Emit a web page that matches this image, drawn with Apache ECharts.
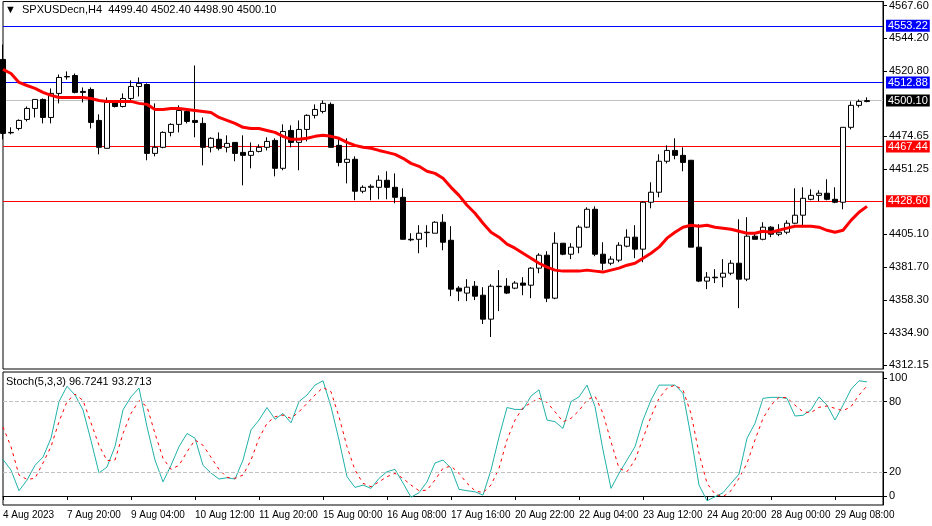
<!DOCTYPE html>
<html>
<head>
<meta charset="utf-8">
<script src="https://cdn.jsdelivr.net/npm/echarts@6/dist/echarts.min.js"></script>
<style>
html,body{margin:0;padding:0;background:#fff;}
#demo{width:932px;height:526px;}
</style>
</head>
<body>
<div id="demo"></div>
<script>
// H4 candles: [open, close, low, high]
var candles = [
[4529.3,4476.8,4472.6,4539.9],[4477.5,4477.2,4476.1,4481.1],[4480.3,4486.0,4478.9,4486.7],[4486.7,4494.5,4485.3,4495.9],
[4494.5,4500.9,4488.1,4500.9],[4500.9,4488.1,4483.9,4501.6],[4488.1,4505.2,4483.9,4508.7],[4505.2,4516.5,4498.1,4518.6],
[4517.2,4516.9,4515.0,4520.8],[4517.9,4505.9,4505.2,4519.3],[4506.6,4505.9,4498.8,4509.4],[4508.0,4484.6,4480.3,4509.4],
[4486.0,4466.9,4461.9,4490.3],[4466.2,4498.8,4466.2,4502.3],[4498.8,4495.9,4495.2,4499.5],[4495.9,4501.6,4495.2,4505.2],
[4501.6,4510.1,4500.2,4514.4],[4510.1,4512.3,4503.0,4516.5],[4511.5,4462.6,4457.7,4512.3],[4462.6,4466.9,4460.5,4498.1],
[4466.9,4477.5,4466.2,4478.2],[4477.5,4483.2,4474.7,4483.9],[4483.2,4493.1,4477.5,4496.7],[4492.4,4485.3,4483.9,4494.5],
[4486.0,4484.6,4474.0,4525.0],[4483.9,4466.9,4454.1,4488.1],[4466.9,4473.3,4463.3,4474.0],[4472.6,4466.2,4464.7,4477.5],
[4466.9,4469.7,4463.3,4475.4],[4470.4,4462.6,4457.0,4470.4],[4463.3,4461.2,4439.9,4475.4],[4461.2,4464.0,4452.0,4470.4],
[4464.0,4466.9,4463.3,4469.0],[4466.9,4471.1,4464.7,4474.0],[4471.8,4452.0,4446.3,4473.3],[4452.0,4478.2,4450.6,4483.2],
[4478.9,4470.4,4466.9,4482.5],[4470.4,4479.6,4450.6,4486.0],[4479.6,4489.6,4471.1,4490.3],[4489.6,4493.8,4487.4,4497.4],
[4492.4,4498.1,4491.0,4500.2],[4497.4,4466.9,4466.9,4498.8],[4468.3,4456.2,4453.4,4474.0],[4456.2,4458.4,4441.3,4473.3],
[4458.4,4435.7,4429.3,4460.5],[4435.7,4438.5,4434.3,4439.9],[4438.5,4439.2,4429.3,4440.6],[4438.5,4443.5,4430.0,4447.0],
[4443.5,4438.5,4430.0,4449.9],[4438.5,4431.4,4427.2,4448.4],[4431.4,4401.6,4401.6,4437.8],[4401.6,4401.2,4400.2,4405.9],
[4401.6,4405.9,4391.7,4411.6],[4406.3,4406.6,4396.0,4411.6],[4405.9,4413.7,4405.9,4414.4],[4413.7,4399.5,4393.8,4419.4],
[4400.9,4366.2,4361.2,4410.9],[4366.9,4364.8,4357.7,4368.3],[4363.4,4367.6,4357.7,4373.3],[4368.3,4361.2,4358.4,4371.9],
[4361.9,4344.9,4341.4,4367.6],[4344.9,4368.3,4332.2,4369.7],[4368.3,4368.0,4350.6,4379.7],[4368.3,4363.4,4362.7,4374.0],
[4366.9,4370.5,4366.2,4371.9],[4370.5,4369.0,4361.9,4374.7],[4369.0,4381.1,4359.8,4381.8],[4381.1,4390.3,4377.5,4391.7],
[4390.3,4359.8,4357.0,4393.1],[4359.8,4398.8,4359.1,4406.6],[4398.8,4391.0,4390.3,4398.8],[4391.0,4396.0,4387.5,4398.8],
[4396.0,4410.2,4391.7,4411.6],[4410.2,4422.9,4409.5,4424.3],[4422.9,4391.0,4389.6,4425.0],[4391.0,4384.6,4379.7,4399.5],
[4384.6,4387.5,4383.2,4389.6],[4386.8,4397.4,4385.3,4399.5],[4396.7,4403.1,4395.9,4408.7],[4403.1,4394.6,4388.2,4411.6],
[4394.6,4427.9,4385.3,4428.6],[4427.9,4435.0,4423.6,4442.1],[4435.0,4457.0,4431.4,4461.9],[4457.0,4464.7,4455.5,4468.3],
[4464.7,4461.2,4458.4,4473.3],[4461.2,4456.2,4449.9,4466.9],[4457.7,4396.0,4396.0,4457.7],[4396.0,4371.9,4371.2,4412.3],
[4371.9,4374.7,4366.2,4378.3],[4374.7,4374.3,4370.5,4380.4],[4374.7,4377.5,4367.6,4387.5],[4377.5,4384.6,4376.1,4386.8],
[4384.6,4373.3,4352.7,4415.8],[4373.3,4403.8,4371.9,4417.3],[4403.8,4401.6,4401.6,4406.6],[4401.6,4410.2,4400.9,4413.7],
[4410.2,4405.2,4403.1,4410.9],[4405.2,4406.6,4403.8,4412.3],[4406.6,4413.0,4405.2,4415.1],[4413.0,4418.7,4412.3,4437.8],
[4418.7,4430.7,4411.6,4438.5],[4430.0,4432.8,4429.3,4437.1],[4432.8,4434.3,4428.6,4436.4],[4434.3,4430.0,4429.3,4444.2],
[4430.0,4427.9,4427.2,4438.5],[4427.9,4481.1,4422.9,4481.1],[4481.1,4496.7,4479.6,4499.5],[4496.7,4499.5,4495.2,4500.9],
[4499.4,4500.1,4498.9,4502.4]
];

var maValues = [
4522.2,4519.3,4513.0,4510.8,4508.7,4505.9,4503.8,4502.3,4502.3,4502.3,4502.3,4501.6,4500.2,4499.5,4499.5,4499.5,
4499.5,4498.1,4497.4,4493.8,4493.8,4494.5,4494.5,4493.8,4493.1,4492.4,4491.7,4488.1,4486.0,4483.9,4481.1,4480.3,
4480.3,4478.9,4477.5,4474.7,4472.6,4472.6,4473.3,4474.7,4475.4,4474.7,4473.3,4470.4,4468.3,4466.9,4466.2,4464.7,
4463.3,4461.9,4459.1,4455.5,4453.4,4449.9,4448.4,4444.9,4438.5,4432.8,
4425.8,4420.1,4413.0,4406.6,4403.1,4398.1,4395.3,4391.7,4388.2,4384.6,4381.8,4379.7,4379.0,4379.0,4379.0,4379.7,
4379.0,4378.3,4379.7,4381.1,4383.2,4384.6,4388.2,4391.7,4396.0,4402.4,4406.6,4410.2,4411.6,4410.9,4411.6,4410.2,
4409.5,4408.7,4407.3,4405.9,4405.9,4407.3,4406.6,4408.0,4409.5,4410.9,4410.9,4410.9,4410.2,4408.0,4406.6,4408.0,
4415.0,4420.8,4425.0
];

var stochMain = [
31,22,4.5,13.5,26,33,49,80,93,85.6,73,47,19.5,24.6,42,73,84,91.5,58.7,30.5,12,26,41.8,53,49,26,19.5,14.4,15.5,14.4,
30.5,56,64.4,75,65,70,62,80,85.6,94,97.7,75.7,47.5,16.4,7.3,9.3,6.5,15,20.6,22.6,11,-1,2.8,12,28,30.5,23.5,5.7,4.5,
3.6,0.8,22,50,75,73.4,73.4,84.7,90,64.4,63,57.3,80,84,94,75.7,39,6.5,19.2,30.5,41.8,64.4,81.4,94,94,94,87,50,9.3,
-4,-0.6,2.8,10.8,18.6,48.9,61.6,82.8,83.6,83.6,82.8,67.8,68.4,73,84,77,64.4,77,90.4,97.7,96.7
];
var stochSignal = [
58.5,41.8,17.8,14.1,15,28,41.8,63,80,86.4,81,62,43,30,30.5,53,70,80.8,75.7,53,32,22.6,26,37.5,47.5,43,32.8,22.6,
15.8,15,17.8,30.5,48.9,61.6,67.2,68.6,65.8,71.4,78.5,85.6,92,88.4,67.2,41.8,22,10.8,7.9,12,16.4,19.2,15,9.3,4.5,5,
13.6,23.5,25.4,19.2,10.8,4.5,2.8,9.3,23.5,47.5,64.4,75,79,82.8,79.4,71.4,63,65.8,72.3,81.4,84.7,70,46,23.5,20.6,
30.5,48.9,67.2,82.8,91.3,94,89.8,70,36.2,10.8,1.7,-0.6,4.5,15,27.7,47.5,65.8,77,83.6,83.3,77,71.4,70.6,75.2,76.3,
74.3,72.3,75.7,85.6,93.3
];

var timeLabels = ['4 Aug 2023','7 Aug 20:00','9 Aug 04:00','10 Aug 12:00','11 Aug 20:00','15 Aug 00:00','16 Aug 08:00',
  '17 Aug 16:00','20 Aug 22:00','22 Aug 04:00','23 Aug 12:00','24 Aug 20:00','28 Aug 00:00','29 Aug 08:00'];
var priceTicks = [4567.60,4544.20,4520.80,4474.65,4451.25,4405.10,4381.70,4358.30,4334.90,4312.15];
var stochTicks = [0,20,80,100];
var levels = [
  {v:4553.22, c:'#0000ff', bg:'#0000ff'},
  {v:4512.88, c:'#0000ff', bg:'#0000ff'},
  {v:4500.10, c:'#c0c0c0', bg:'#000000'},
  {v:4467.44, c:'#ff0000', bg:'#ff0000'},
  {v:4428.60, c:'#ff0000', bg:'#ff0000'}
];

var N = candles.length + 2;
var cats = [];
for (var i = 0; i < N; i++) {
  cats.push(i % 8 === 0 && timeLabels[i / 8] ? timeLabels[i / 8] : '');
}

var font = 'Liberation Sans';
var myChart = echarts.init(document.getElementById('demo'));

var option = {
  animation: false,
  backgroundColor: '#fff',
  textStyle: {fontFamily: font},
  graphic: [
    {type: 'text', left: 5, top: 4, style: {text: '▼  SPXUSDecn,H4  4499.40 4502.40 4498.90 4500.10', fontSize: 11, fontFamily: font, fill: '#000'}},
    {type: 'text', left: 6, top: 376, style: {text: 'Stoch(5,3,3) 96.7241 93.2713', fontSize: 11, fontFamily: font, fill: '#000'}}
  ],
  grid: [
    {left: 3, right: 49, top: 1, height: 368, show: true, borderColor: '#000', borderWidth: 1, backgroundColor: 'transparent'},
    {left: 3, right: 49, top: 372, height: 133, show: true, borderColor: '#000', borderWidth: 1, backgroundColor: 'transparent'}
  ],
  xAxis: [
    {type: 'category', gridIndex: 0, data: cats, boundaryGap: false, show: false},
    {type: 'category', gridIndex: 1, data: cats, boundaryGap: false,
      axisLine: {lineStyle: {color: '#000'}},
      axisTick: {show: true, length: 4, interval: function (i) { return i % 8 === 0; }, lineStyle: {color: '#000'}},
      axisLabel: {interval: function (i) { return i % 8 === 0; }, hideOverlap: false, align: 'left', margin: 5,
        fontSize: 10, color: '#000', fontFamily: font},
      splitLine: {show: false}}
  ],
  yAxis: [
    {type: 'value', gridIndex: 0, position: 'right', min: 4309.5, max: 4570.4,
      axisLine: {show: true, lineStyle: {color: '#000'}},
      axisTick: {show: true, length: 4, customValues: priceTicks, lineStyle: {color: '#000'}},
      axisLabel: {customValues: priceTicks, fontSize: 11, color: '#000', margin: 6,
        formatter: function (v) { return v.toFixed(2); }},
      splitLine: {show: false}},
    {type: 'value', gridIndex: 1, position: 'right', min: -7.6, max: 105.1,
      axisLine: {show: true, lineStyle: {color: '#000'}},
      axisTick: {show: true, length: 4, customValues: stochTicks, lineStyle: {color: '#000'}},
      axisLabel: {customValues: stochTicks, fontSize: 11, color: '#000', margin: 6},
      splitLine: {show: false}}
  ],
  series: [
    {
      name: 'SPXUSDecn', type: 'candlestick', xAxisIndex: 0, yAxisIndex: 0,
      data: candles, barWidth: 5,
      itemStyle: {color: '#ffffff', color0: '#000000', borderColor: '#000000', borderColor0: '#000000', borderWidth: 1},
      markLine: {
        silent: true, symbol: 'none', animation: false, z: 1,
        data: levels.map(function (l) {
          return {yAxis: l.v, lineStyle: {color: l.c, type: 'solid', width: 1, opacity: 1},
            label: {show: true, position: 'end', distance: 3, formatter: l.v.toFixed(2), color: '#fff',
              backgroundColor: l.bg, padding: [1, 2, 0, 2], fontSize: 11, fontFamily: font}};
        })
      }
    },
    {
      name: 'MA', type: 'line', xAxisIndex: 0, yAxisIndex: 0, data: maValues,
      symbol: 'none', lineStyle: {color: '#ff0000', width: 3}, z: 3
    },
    {
      name: 'Stoch', type: 'line', xAxisIndex: 1, yAxisIndex: 1, data: stochMain,
      symbol: 'none', lineStyle: {color: '#20b2aa', width: 1},
      markLine: {
        silent: true, symbol: 'none', label: {show: false},
        lineStyle: {color: '#c0c0c0', type: 'dashed', width: 1},
        data: [{yAxis: 80}, {yAxis: 20}]
      }
    },
    {
      name: 'Signal', type: 'line', xAxisIndex: 1, yAxisIndex: 1, data: stochSignal,
      symbol: 'none', lineStyle: {color: '#ff0000', width: 1, type: [3, 4]}
    }
  ]
};
myChart.setOption(option);
</script>
</body>
</html>
